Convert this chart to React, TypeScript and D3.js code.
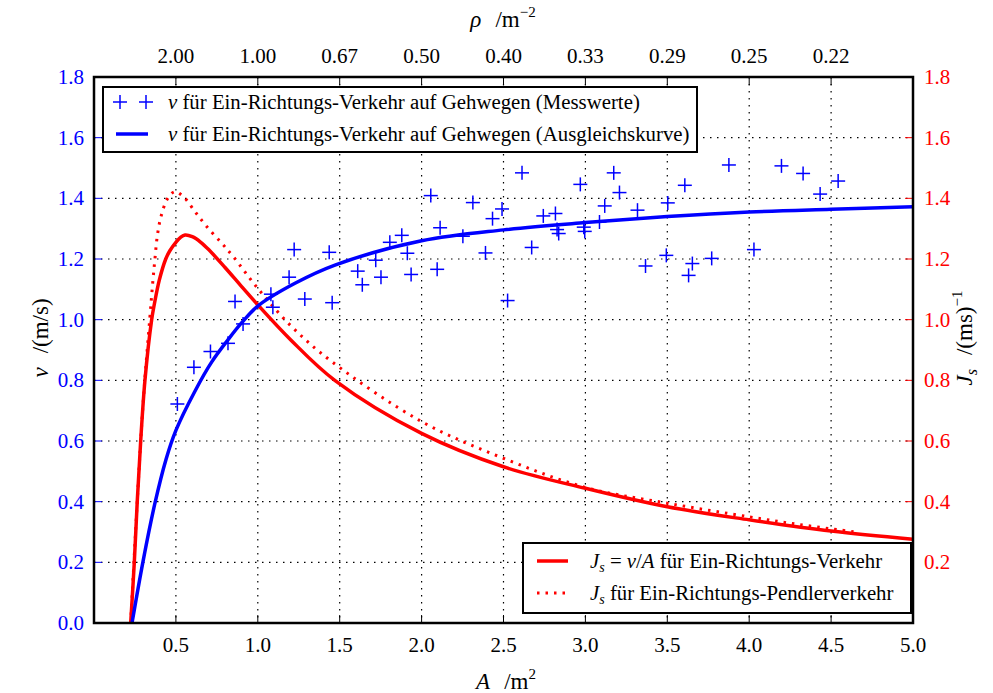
import React from "react";
import * as d3 from "d3";

// ---------- data ----------
const measA = [0.509,0.61,0.711,0.818,0.861,0.91,1.08,1.092,1.191,1.222,1.287,1.436,1.454,1.61,1.638,1.72,1.752,1.806,1.879,1.913,1.936,2.056,2.095,2.113,2.252,2.313,2.39,2.433,2.491,2.525,2.613,2.672,2.743,2.817,2.827,2.837,2.969,2.99,2.996,3.086,3.118,3.173,3.208,3.318,3.367,3.494,3.503,3.607,3.63,3.653,3.771,3.876,4.029,4.197,4.329,4.433,4.543];
const measV = [0.722,0.843,0.895,0.922,1.06,0.986,1.084,1.041,1.14,1.231,1.068,1.222,1.056,1.16,1.115,1.196,1.14,1.255,1.278,1.219,1.149,1.409,1.166,1.303,1.275,1.386,1.22,1.333,1.365,1.063,1.484,1.238,1.342,1.35,1.297,1.284,1.446,1.305,1.291,1.322,1.375,1.484,1.419,1.361,1.177,1.212,1.385,1.443,1.146,1.185,1.202,1.51,1.231,1.507,1.482,1.414,1.457];

const fitA = [0.232,0.3,0.37,0.44,0.5,0.617,0.718,0.82,0.902,1.0,1.227,1.471,2.0,2.5,3.0,3.5,4.0,4.5,5.0];
const fitV = [0,0.205,0.39,0.54,0.635,0.765,0.86,0.935,0.99,1.045,1.12,1.18,1.26,1.296,1.32,1.34,1.355,1.364,1.372];

const jsA = [0.224,0.246,0.264,0.285,0.311,0.352,0.368,0.399,0.438,0.464,0.5,0.53,0.556,0.6,0.65,0.7,0.8,0.9,1.0,1.2,1.47,2.0,2.5,3.0,3.5,4.0,4.5,5.0];
const jsJ = [0,0.2,0.4,0.6,0.8,1.0,1.05,1.131,1.2,1.228,1.255,1.272,1.279,1.2735,1.256,1.231,1.172,1.11,1.049,0.934,0.8,0.625,0.515,0.444,0.383,0.34,0.303,0.276];

const pendA = [0.224,0.285,0.31,0.34,0.36,0.372,0.386,0.409,0.45,0.494,0.545,0.617,0.688,0.78,0.85,1.0,1.207,1.451,2.0,2.5,3.0,3.5,4.0,4.3,4.65];
const pendJ = [0,0.6,0.8,1.0,1.131,1.2,1.274,1.34,1.4,1.422,1.406,1.356,1.307,1.252,1.208,1.103,0.977,0.862,0.664,0.543,0.447,0.395,0.35,0.325,0.3];

const xTicks = [0.5,1.0,1.5,2.0,2.5,3.0,3.5,4.0,4.5,5.0];
const xTickLabels = ["0.5","1.0","1.5","2.0","2.5","3.0","3.5","4.0","4.5","5.0"];
const topTickLabels = ["2.00","1.00","0.67","0.50","0.40","0.33","0.29","0.25","0.22"];
const yTicks = [0,0.2,0.4,0.6,0.8,1.0,1.2,1.4,1.6,1.8];

const BLUE = "#0000ff";
const RED = "#ff0000";
const FONT = "'Liberation Serif', 'Times New Roman', serif";

export default function App() {
  const L = 94, T = 77, W = 819, H = 546;
  const x = d3.scaleLinear().domain([0, 5]).range([L, L + W]);
  const y = d3.scaleLinear().domain([0, 1.8]).range([T + H, T]);

  const line = d3.line<[number, number]>().x(d => x(d[0])).y(d => y(d[1])).curve(d3.curveCatmullRom.alpha(0.5));
  const fitPath = line(fitA.map((a, i) => [a, fitV[i]]) as [number, number][]) || "";
  const jsPath = line(jsA.map((a, i) => [a, jsJ[i]]) as [number, number][]) || "";
  const pendPath = line(pendA.map((a, i) => [a, pendJ[i]]) as [number, number][]) || "";

  const plus = (cx: number, cy: number, k: string | number, s = 7) => (
    <g key={k} stroke={BLUE} strokeWidth={1.5}>
      <line x1={cx - s} x2={cx + s} y1={cy} y2={cy} />
      <line x1={cx} x2={cx} y1={cy - s} y2={cy + s} />
    </g>
  );

  return (
    <svg width={993} height={693} style={{ position: "absolute", left: 0, top: 0, background: "#fff", fontFamily: FONT }}>
      <rect x={0} y={0} width={993} height={693} fill="#fff" />
      <defs>
        <clipPath id="plotclip"><rect x={L} y={T} width={W} height={H} /></clipPath>
      </defs>
      {/* grid */}
      <g stroke="#000" strokeWidth={1.2} strokeDasharray="1.5,5.5">
        {xTicks.slice(0, -1).map(t => <line key={"gx" + t} x1={x(t)} x2={x(t)} y1={T} y2={T + H} />)}
        {yTicks.slice(1, -1).map(t => <line key={"gy" + t} x1={L} x2={L + W} y1={y(t)} y2={y(t)} />)}
      </g>
      {/* ticks */}
      <g stroke={BLUE} strokeWidth={1}>
        {yTicks.map(t => <line key={"lt" + t} x1={L} x2={L + 8} y1={y(t)} y2={y(t)} />)}
      </g>
      <g stroke={RED} strokeWidth={1}>
        {yTicks.map(t => <line key={"rt" + t} x1={L + W - 8} x2={L + W} y1={y(t)} y2={y(t)} />)}
      </g>
      <g stroke="#000" strokeWidth={1}>
        {xTicks.map(t => <line key={"bt" + t} x1={x(t)} x2={x(t)} y1={T + H} y2={T + H - 8} />)}
        {xTicks.map(t => <line key={"tt" + t} x1={x(t)} x2={x(t)} y1={T} y2={T + 8} />)}
      </g>

      {/* data */}
      <g clipPath="url(#plotclip)">
        <path d={pendPath} fill="none" stroke={RED} strokeWidth={3} strokeDasharray="2.5,6" />
        <path d={jsPath} fill="none" stroke={RED} strokeWidth={3.5} />
        <path d={fitPath} fill="none" stroke={BLUE} strokeWidth={3.5} />
        {measA.map((a, i) => plus(x(a), y(measV[i]), i))}
      </g>

      {/* frame */}
      <rect x={L} y={T} width={W} height={H} fill="none" stroke="#000" strokeWidth={2.5} />

      {/* tick labels */}
      <g fontSize={21} fill={BLUE} textAnchor="end">
        {yTicks.map(t => <text key={"yl" + t} x={L - 10} y={y(t) + 7}>{t.toFixed(1)}</text>)}
      </g>
      <g fontSize={21} fill={RED} textAnchor="start">
        {yTicks.slice(1).map(t => <text key={"yr" + t} x={L + W + 11} y={y(t) + 7}>{t.toFixed(1)}</text>)}
      </g>
      <g fontSize={21} fill="#000" textAnchor="middle">
        {xTicks.map((t, i) => <text key={"xl" + t} x={x(t)} y={T + H + 29}>{xTickLabels[i]}</text>)}
        {xTicks.slice(0, -1).map((t, i) => <text key={"xt" + t} x={x(t)} y={T - 14}>{topTickLabels[i]}</text>)}
      </g>

      {/* axis labels */}
      <text x={506} y={689} fontSize={23} textAnchor="middle">
        <tspan fontStyle="italic">A</tspan><tspan dx={14}>/m</tspan><tspan fontSize={15} dy={-10}>2</tspan>
      </text>
      <text x={503} y={27} fontSize={23} textAnchor="middle">
        <tspan fontStyle="italic">ρ</tspan><tspan dx={14}>/m</tspan><tspan fontSize={15} dy={-10}>−2</tspan>
      </text>
      <text transform="translate(48,338) rotate(-90)" fontSize={23} textAnchor="middle">
        <tspan fontStyle="italic">v</tspan><tspan dx={14}>/(m/s)</tspan>
      </text>
      <text transform="translate(972,338) rotate(-90)" fontSize={23} textAnchor="middle">
        <tspan fontStyle="italic">J</tspan><tspan fontStyle="italic" fontSize={16} dy={5}>s</tspan><tspan dx={14} dy={-5}>/(ms)</tspan><tspan fontSize={15} dy={-10}>−1</tspan>
      </text>

      {/* top legend */}
      <rect x={103} y={87} width={594} height={65} fill="#fff" stroke="#000" strokeWidth={2} />
      {plus(120, 102, "lg1")}
      {plus(146, 102, "lg2")}
      <line x1={116} x2={148} y1={134} y2={134} stroke={BLUE} strokeWidth={3.5} />
      <g fontSize={20.8} fill="#000">
        <text x={168} y={109}><tspan fontStyle="italic">v</tspan> für Ein-Richtungs-Verkehr auf Gehwegen (Messwerte)</text>
        <text x={168} y={141}><tspan fontStyle="italic">v</tspan> für Ein-Richtungs-Verkehr auf Gehwegen (Ausgleichskurve)</text>
      </g>

      {/* bottom legend */}
      <rect x={523} y={543} width={388} height={70} fill="#fff" stroke="#000" strokeWidth={2} />
      <line x1={537} x2={568} y1={561} y2={561} stroke={RED} strokeWidth={3.5} />
      <line x1={537} x2={568} y1={593} y2={593} stroke={RED} strokeWidth={3} strokeDasharray="2.5,6" />
      <g fontSize={20.8} fill="#000">
        <text x={590} y={568}>
          <tspan fontStyle="italic">J</tspan><tspan fontStyle="italic" fontSize={14} dy={4}>s</tspan>
          <tspan dy={-4}> = </tspan><tspan fontStyle="italic">v</tspan><tspan>/</tspan><tspan fontStyle="italic">A</tspan><tspan> für Ein-Richtungs-Verkehr</tspan>
        </text>
        <text x={590} y={600}>
          <tspan fontStyle="italic">J</tspan><tspan fontStyle="italic" fontSize={14} dy={4}>s</tspan>
          <tspan dy={-4}> für Ein-Richtungs-Pendlerverkehr</tspan>
        </text>
      </g>
    </svg>
  );
}
